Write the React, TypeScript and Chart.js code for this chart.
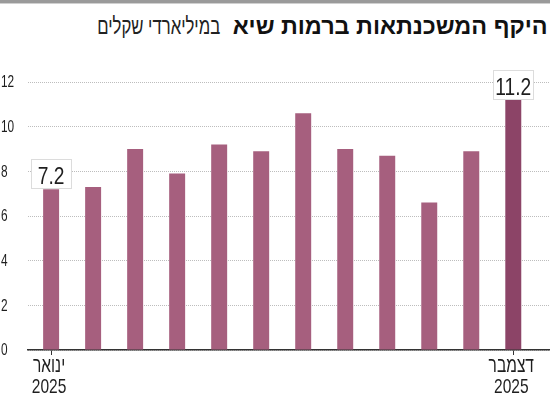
import React, { useEffect, useRef } from "react";
import { Chart, registerables } from "chart.js";
Chart.register(...registerables);

const months = ["ינואר", "פברואר", "מרץ", "אפריל", "מאי", "יוני", "יולי", "אוגוסט", "ספטמבר", "אוקטובר", "נובמבר", "דצמבר"];
const years = ["2025", "2025", "2025", "2025", "2025", "2025", "2025", "2025", "2025", "2025", "2025", "2025"];
const values = [7.2, 7.3, 9.0, 7.9, 9.2, 8.9, 10.6, 9.0, 8.7, 6.6, 8.9, 11.2];
const labeledIdx = [0, 11];
const xTickIdx = [0, 11];
const yTicks = [0, 2, 4, 6, 8, 10, 12];
const titleBold = "היקף המשכנתאות ברמות שיא";
const titleRegular = "במיליארדי שקלים";

const FONT = "'Liberation Sans', Arial, sans-serif";
const BAR = "#A65F7E";
const BAR_HI = "#8C4467";
const TEXT = "#1e1e1e";
const SQUEEZE = 0.74;

function squeezedText(ctx: CanvasRenderingContext2D, text: string, x: number, y: number, align: CanvasTextAlign, sx: number) {
  ctx.save();
  ctx.translate(x, y);
  ctx.scale(sx, 1);
  ctx.textAlign = align;
  ctx.fillText(text, 0, 0);
  ctx.restore();
}

const condensedLabels = {
  id: "condensedLabels",
  afterDraw(chart: any) {
    const ctx = chart.ctx as CanvasRenderingContext2D;
    const xs = chart.scales.x;
    const ys = chart.scales.y;
    ctx.save();
    ctx.fillStyle = TEXT;
    ctx.font = `16px ${FONT}`;
    ctx.textBaseline = "middle";
    ys.ticks.forEach((t: any) => {
      squeezedText(ctx, String(t.value), 1, ys.getPixelForValue(t.value) + 1, "left", SQUEEZE);
    });
    ctx.font = `21px ${FONT}`;
    ctx.textBaseline = "alphabetic";
    xs.ticks.forEach((t: any) => {
      const px = xs.getPixelForValue(t.value) - 2;
      const base = xs.top;
      squeezedText(ctx, months[t.value], px, base + 22, "center", SQUEEZE);
      squeezedText(ctx, years[t.value], px, base + 43, "center", SQUEEZE);
    });
    ctx.restore();
  },
};

const valueBoxes = {
  id: "valueBoxes",
  afterDatasetsDraw(chart: any) {
    const ctx = chart.ctx as CanvasRenderingContext2D;
    const meta = chart.getDatasetMeta(0);
    ctx.save();
    ctx.font = `24px ${FONT}`;
    labeledIdx.forEach((i) => {
      const el = meta.data[i];
      const text = String(values[i]);
      const w = 40;
      const h = 29;
      const x = Math.round(el.x - w / 2) + 0.5;
      const y = Math.round(el.y - h) - 0.5;
      ctx.fillStyle = "#fff";
      ctx.fillRect(x, y, w, h);
      ctx.strokeStyle = "#dcdcdc";
      ctx.lineWidth = 1;
      ctx.strokeRect(x, y, w, h);
      ctx.fillStyle = TEXT;
      ctx.textBaseline = "alphabetic";
      squeezedText(ctx, text, el.x, y + h - 5, "center", 0.8);
    });
    ctx.restore();
  },
};

export default function App() {
  const ref = useRef<HTMLCanvasElement | null>(null);
  const boldRef = useRef<HTMLSpanElement | null>(null);
  const regRef = useRef<HTMLSpanElement | null>(null);

  useEffect(() => {
    document.body.style.margin = "0";
    const fit = (el: HTMLSpanElement | null, target: number) => {
      if (!el) return;
      const w = el.getBoundingClientRect().width;
      if (w > 0) el.style.transform = `scaleX(${target / w})`;
    };
    fit(boldRef.current, 315);
    fit(regRef.current, 123);

    const canvas = ref.current!;
    const chart = new Chart(canvas, {
      type: "bar",
      data: {
        datasets: [
          {
            data: values.map((v, i) => ({ x: i, y: v })),
            backgroundColor: values.map((_, i) => (i === values.length - 1 ? BAR_HI : BAR)),
            borderWidth: 0,
            barPercentage: 0.38,
            categoryPercentage: 1,
          },
        ],
      },
      options: {
        animation: false,
        responsive: false,
        devicePixelRatio: 1,
        layout: { padding: { top: 82, left: 0, right: 1, bottom: 0 } },
        plugins: { legend: { display: false }, tooltip: { enabled: false }, title: { display: false } },
        scales: {
          x: {
            type: "linear",
            offset: false,
            min: -0.55,
            max: 11.85,
            afterBuildTicks: (s: any) => {
              s.ticks = xTickIdx.map((v) => ({ value: v }));
            },
            afterFit: (s: any) => {
              s.height = 45;
            },
            grid: { display: true, offset: false, drawOnChartArea: false, drawTicks: true, tickLength: 5, color: "#333", lineWidth: 1 },
            border: { display: true, color: "#333", width: 1.5 },
            ticks: { display: false, autoSkip: false, maxRotation: 0 },
          },
          y: {
            min: 0,
            max: 12,
            afterBuildTicks: (s: any) => {
              s.ticks = yTicks.map((v) => ({ value: v }));
            },
            afterFit: (s: any) => {
              s.width = 28;
            },
            grid: { color: "#bdbdbd", drawTicks: false, lineWidth: 1 },
            border: { display: false, dash: [1, 1] },
            ticks: { display: false },
          },
        },
      },
      plugins: [valueBoxes, condensedLabels],
    } as any);
    return () => chart.destroy();
  }, []);

  const titleCommon: React.CSSProperties = {
    position: "absolute",
    top: 15,
    direction: "rtl",
    whiteSpace: "nowrap",
    fontFamily: FONT,
    fontSize: 23,
    lineHeight: 1,
    transformOrigin: "right center",
    display: "inline-block",
  };

  return (
    <div style={{ position: "absolute", left: 0, top: 0, width: 550, height: 395, background: "#fff", overflow: "hidden" }}>
      <div style={{ position: "absolute", left: 0, top: 0, width: 550, height: 3, background: "#9a9a9a", borderBottom: "1px solid #d0d0d0" }} />
      <span ref={boldRef} style={{ ...titleCommon, right: 2, fontWeight: 700, color: "#111" }}>
        {titleBold}
      </span>
      <span ref={regRef} style={{ ...titleCommon, right: 330, fontWeight: 400, color: "#222" }}>
        {titleRegular}
      </span>
      <canvas ref={ref} width={550} height={395} style={{ position: "absolute", left: 0, top: 0 }} />
    </div>
  );
}
